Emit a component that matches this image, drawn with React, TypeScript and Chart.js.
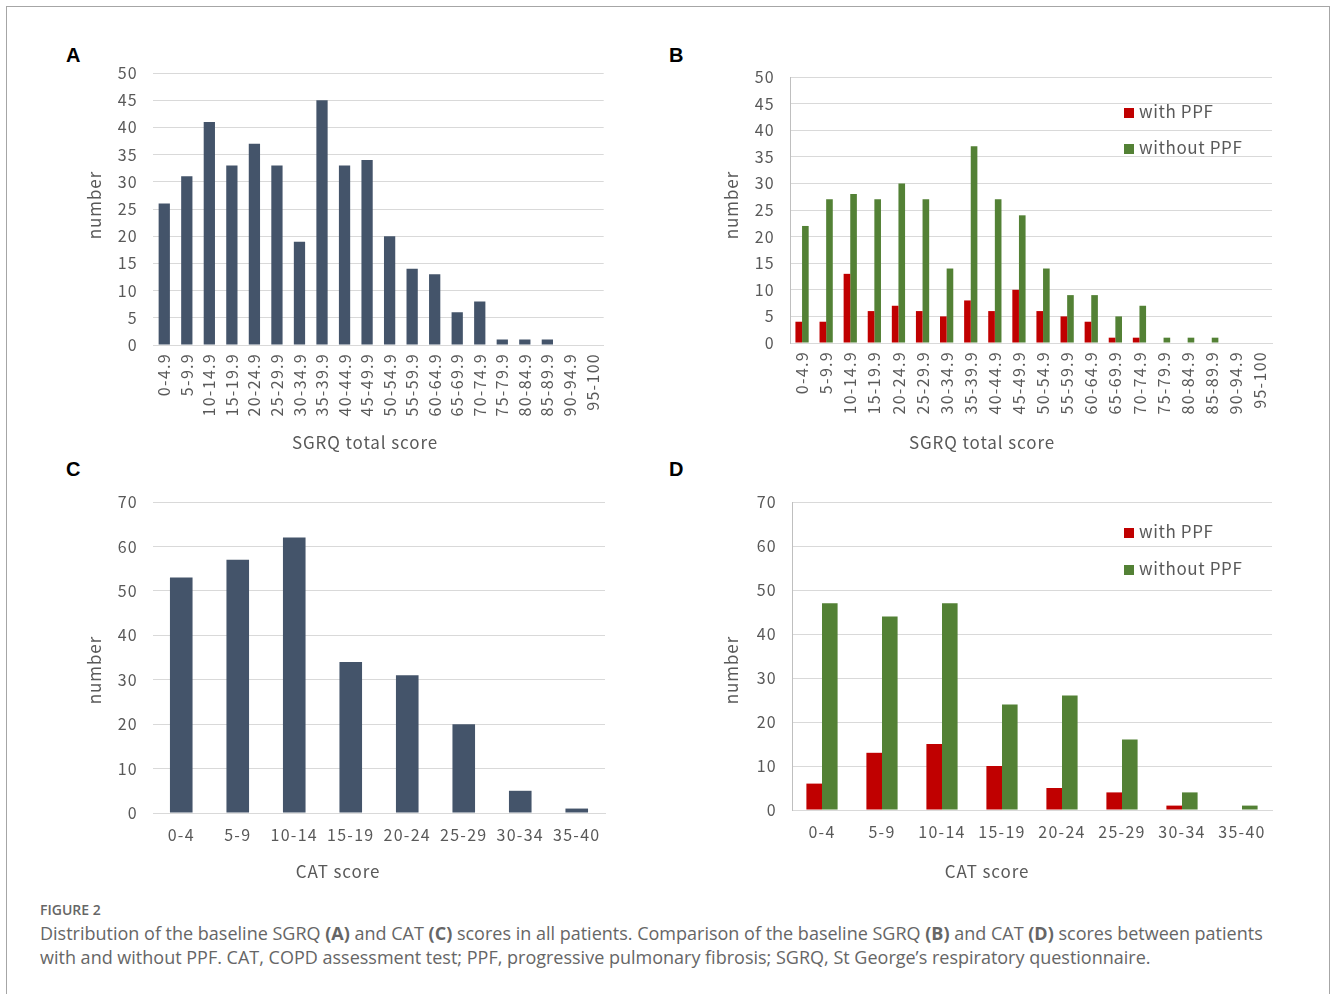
import React, { useEffect, useRef } from "react";
import { Chart, registerables } from "chart.js";

Chart.register(...registerables);

const FONT = '"Noto Sans CJK JP", "Noto Sans", sans-serif';
const TEXT_COLOR = "#595959";

// ---- Data ----
const sgrqCategories = [
  "0-4.9", "5-9.9", "10-14.9", "15-19.9", "20-24.9", "25-29.9", "30-34.9",
  "35-39.9", "40-44.9", "45-49.9", "50-54.9", "55-59.9", "60-64.9", "65-69.9",
  "70-74.9", "75-79.9", "80-84.9", "85-89.9", "90-94.9", "95-100",
];
const sgrqAll = [26, 31, 41, 33, 37, 33, 19, 45, 33, 34, 20, 14, 13, 6, 8, 1, 1, 1, 0, 0];
const sgrqWithPPF = [4, 4, 13, 6, 7, 6, 5, 8, 6, 10, 6, 5, 4, 1, 1, 0, 0, 0, 0, 0];
const sgrqWithoutPPF = [22, 27, 28, 27, 30, 27, 14, 37, 27, 24, 14, 9, 9, 5, 7, 1, 1, 1, 0, 0];

const catCategories = ["0-4", "5-9", "10-14", "15-19", "20-24", "25-29", "30-34", "35-40"];
const catAll = [53, 57, 62, 34, 31, 20, 5, 1];
const catWithPPF = [6, 13, 15, 10, 5, 4, 1, 0];
const catWithoutPPF = [47, 44, 47, 24, 26, 16, 4, 1];

const seriesLabels = ["with PPF", "without PPF"];
const sgrqAxisTitle = "SGRQ total score";
const catAxisTitle = "CAT score";
const yAxisTitle = "number";

const COLOR_ALL = "#44546A";
const COLOR_WITH = "#C00000";
const COLOR_WITHOUT = "#538135";

type Box = { left: number; top: number; width: number; height: number };
type Area = { left: number; top: number; right: number; bottom: number };
type TitleItem = { text: string; x: number; y: number; rotate?: boolean };
type LegendItem = { x: number; y: number };

type PanelProps = {
  box: Box;
  area: Area;
  labels: string[];
  datasets: any[];
  yMax: number;
  yStep: number;
  rotate: boolean;
  yLine: boolean;
  titles: TitleItem[];
  legend?: LegendItem[];
  xTickPad: number;
};

function BarPanel(p: PanelProps) {
  const ref = useRef<HTMLCanvasElement | null>(null);
  useEffect(() => {
    if (!ref.current) return;
    const { box, area } = p;
    const textPlugin = {
      id: "panelText",
      beforeDraw(chart: any) {
        (chart.ctx as any).letterSpacing = "1.3px";
      },
      afterDraw(chart: any) {
        const ctx = chart.ctx as CanvasRenderingContext2D;
        ctx.save();
        ctx.fillStyle = TEXT_COLOR;
        ctx.font = `17px ${FONT}`;
        ctx.textBaseline = "middle";
        (ctx as any).letterSpacing = "0.9px";
        for (const t of p.titles) {
          ctx.save();
          ctx.translate(t.x - box.left, t.y - box.top);
          if (t.rotate) ctx.rotate(-Math.PI / 2);
          ctx.textAlign = "center";
          ctx.fillText(t.text, 0, 0);
          ctx.restore();
        }
        if (p.legend) {
          (ctx as any).letterSpacing = "0.6px";
          chart.data.datasets.forEach((ds: any, i: number) => {
            const pos = p.legend![i];
            if (!pos) return;
            const x = pos.x - box.left;
            const y = pos.y - box.top;
            ctx.fillStyle = ds.backgroundColor;
            ctx.fillRect(x, y - 4, 10, 10);
            ctx.fillStyle = TEXT_COLOR;
            ctx.textAlign = "left";
            ctx.fillText(ds.label, x + 15, y);
          });
        }
        ctx.restore();
        (ctx as any).letterSpacing = "0px";
      },
    };
    const chart = new Chart(ref.current, {
      type: "bar",
      data: { labels: p.labels, datasets: p.datasets },
      options: {
        animation: false,
        responsive: false,
        maintainAspectRatio: false,
        devicePixelRatio: 1,
        layout: {
          padding: {
            top: area.top - box.top,
            right: box.left + box.width - area.right,
            left: 0,
            bottom: 0,
          },
        },
        plugins: {
          legend: { display: false },
          tooltip: { enabled: false },
        },
        scales: {
          x: {
            grid: { display: false, drawTicks: false },
            border: { display: true, color: "#d9d9d9" },
            ticks: {
              color: TEXT_COLOR,
              font: { family: FONT, size: 16 },
              padding: p.xTickPad,
              autoSkip: false,
              minRotation: p.rotate ? 90 : 0,
              maxRotation: p.rotate ? 90 : 0,
            },
            afterFit: (s: any) => {
              s.height = box.top + box.height - area.bottom;
            },
          },
          y: {
            min: 0,
            max: p.yMax,
            grid: { color: "#d9d9d9", drawTicks: false },
            border: { display: p.yLine, color: "#bfbfbf" },
            ticks: {
              stepSize: p.yStep,
              color: TEXT_COLOR,
              font: { family: FONT, size: 16 },
              padding: 15,
            },
            afterFit: (s: any) => {
              s.width = area.left - box.left;
            },
          },
        },
      },
      plugins: [textPlugin],
    });
    return () => chart.destroy();
  }, []);
  return (
    <canvas
      ref={ref}
      width={p.box.width}
      height={p.box.height}
      style={{
        position: "absolute",
        left: p.box.left,
        top: p.box.top,
        width: p.box.width,
        height: p.box.height,
      }}
    />
  );
}

const letterStyle = (left: number, top: number): React.CSSProperties => ({
  position: "absolute",
  left,
  top,
  fontFamily: '"Liberation Sans", Arial, sans-serif',
  fontWeight: 700,
  fontSize: 20,
  color: "#000",
  lineHeight: "20px",
});

export default function App() {
  return (
    <div
      style={{
        position: "absolute",
        left: 0,
        top: 0,
        width: 1330,
        height: 994,
        overflow: "hidden",
        background: "#fff",
      }}
    >
      <div
        style={{
          position: "absolute",
          left: 6,
          top: 6,
          width: 1322,
          height: 1100,
          border: "1px solid #a6a6a6",
        }}
      />
      <div style={letterStyle(66, 45)}>A</div>
      <div style={letterStyle(669, 45)}>B</div>
      <div style={letterStyle(66, 459)}>C</div>
      <div style={letterStyle(669, 459)}>D</div>

      <BarPanel
        box={{ left: 50, top: 40, width: 570, height: 420 }}
        area={{ left: 153, top: 73, right: 605, bottom: 345 }}
        labels={sgrqCategories}
        datasets={[
          {
            label: "all",
            data: sgrqAll,
            backgroundColor: COLOR_ALL,
            barPercentage: 0.5,
            categoryPercentage: 1,
          },
        ]}
        yMax={50}
        yStep={5}
        rotate={true}
        yLine={false}
        xTickPad={8}
        titles={[
          { text: yAxisTitle, x: 95, y: 205, rotate: true },
          { text: sgrqAxisTitle, x: 365, y: 443 },
        ]}
      />
      <BarPanel
        box={{ left: 660, top: 40, width: 630, height: 420 }}
        area={{ left: 790, top: 77, right: 1272, bottom: 343 }}
        labels={sgrqCategories}
        datasets={[
          {
            label: seriesLabels[0],
            data: sgrqWithPPF,
            backgroundColor: COLOR_WITH,
            barPercentage: 1,
            categoryPercentage: 0.55,
          },
          {
            label: seriesLabels[1],
            data: sgrqWithoutPPF,
            backgroundColor: COLOR_WITHOUT,
            barPercentage: 1,
            categoryPercentage: 0.55,
          },
        ]}
        yMax={50}
        yStep={5}
        rotate={true}
        yLine={true}
        xTickPad={8}
        titles={[
          { text: yAxisTitle, x: 732, y: 205, rotate: true },
          { text: sgrqAxisTitle, x: 982, y: 443 },
        ]}
        legend={[
          { x: 1124, y: 112 },
          { x: 1124, y: 148 },
        ]}
      />
      <BarPanel
        box={{ left: 50, top: 470, width: 570, height: 420 }}
        area={{ left: 153, top: 502, right: 605, bottom: 813 }}
        labels={catCategories}
        datasets={[
          {
            label: "all",
            data: catAll,
            backgroundColor: COLOR_ALL,
            barPercentage: 0.4,
            categoryPercentage: 1,
          },
        ]}
        yMax={70}
        yStep={10}
        rotate={false}
        yLine={false}
        xTickPad={12}
        titles={[
          { text: yAxisTitle, x: 95, y: 670, rotate: true },
          { text: catAxisTitle, x: 338, y: 872 },
        ]}
      />
      <BarPanel
        box={{ left: 660, top: 470, width: 630, height: 420 }}
        area={{ left: 792, top: 502, right: 1272, bottom: 810 }}
        labels={catCategories}
        datasets={[
          {
            label: seriesLabels[0],
            data: catWithPPF,
            backgroundColor: COLOR_WITH,
            barPercentage: 1,
            categoryPercentage: 0.52,
          },
          {
            label: seriesLabels[1],
            data: catWithoutPPF,
            backgroundColor: COLOR_WITHOUT,
            barPercentage: 1,
            categoryPercentage: 0.52,
          },
        ]}
        yMax={70}
        yStep={10}
        rotate={false}
        yLine={true}
        xTickPad={12}
        titles={[
          { text: yAxisTitle, x: 732, y: 670, rotate: true },
          { text: catAxisTitle, x: 987, y: 872 },
        ]}
        legend={[
          { x: 1124, y: 532 },
          { x: 1124, y: 569 },
        ]}
      />

      <div
        style={{
          position: "absolute",
          left: 40,
          top: 901,
          fontFamily: '"Open Sans", sans-serif',
          fontWeight: 600,
          fontSize: 14,
          color: "#666",
          lineHeight: "18px",
        }}
      >
        FIGURE 2
      </div>
      <div
        style={{
          position: "absolute",
          left: 40,
          top: 921,
          width: 1280,
          whiteSpace: "nowrap",
          fontFamily: '"Open Sans", sans-serif',
          fontSize: 18,
          color: "#666",
          lineHeight: "24px",
        }}
      >
        Distribution of the baseline SGRQ <b>(A)</b> and CAT <b>(C)</b> scores in all
        patients. Comparison of the baseline SGRQ <b>(B)</b> and CAT <b>(D)</b> scores
        between patients
        <br />
        with and without PPF. CAT, COPD assessment test; PPF, progressive pulmonary
        fibrosis; SGRQ, St George’s respiratory questionnaire.
      </div>
    </div>
  );
}
